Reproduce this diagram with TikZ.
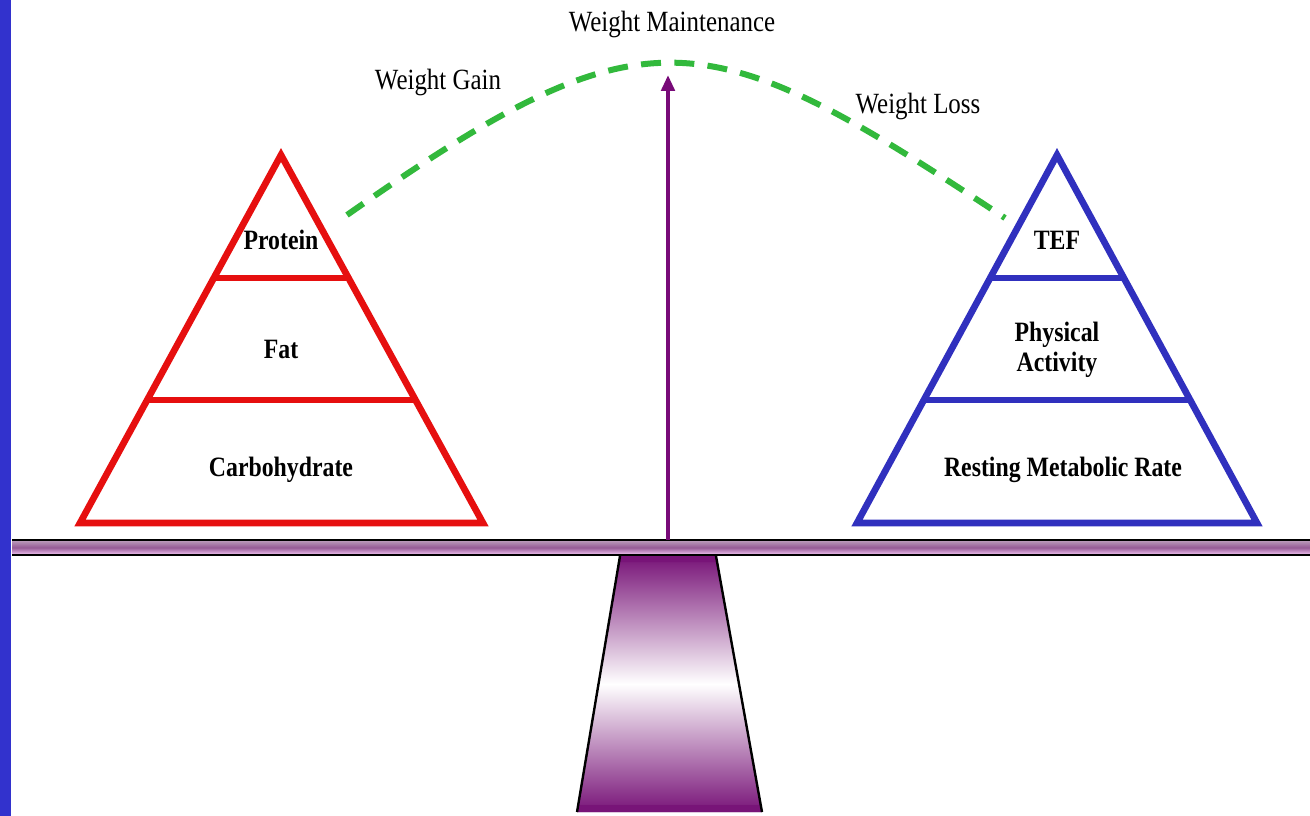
\documentclass[tikz,border=0pt]{standalone}
\usepackage{fontspec}
\setmainfont{Liberation Serif}
\newfontfamily\labfont[FakeStretch=0.85]{Liberation Serif}
\usetikzlibrary{calc,arrows.meta}
\definecolor{lbar}{RGB}{50,50,205}
\definecolor{redtri}{RGB}{230,15,15}
\definecolor{bluetri}{RGB}{48,48,190}
\definecolor{dgreen}{RGB}{50,185,60}
\definecolor{arrpurple}{RGB}{120,10,120}
\definecolor{fulpurple}{RGB}{120,20,120}
\definecolor{beamlav}{RGB}{190,160,190}
\definecolor{beampur}{RGB}{150,90,150}
\definecolor{beampink}{RGB}{245,200,245}
\tikzset{
  tri/.style={line width=5pt, line join=miter},
  layer/.style={line width=5pt},
  plainlab/.style={font=\labfont\fontsize{22}{24}\selectfont, inner sep=0pt},
  boldlab/.style={font=\labfont\bfseries\fontsize{21}{22.5}\selectfont, inner sep=0pt, align=center},
  arc/.style={dgreen, line width=4.5pt, dash pattern=on 15pt off 10pt},
}
\begin{document}
\begin{tikzpicture}[x=0.75pt,y=-0.75pt]
\useasboundingbox (0,0) rectangle (1310,816);
\fill[white] (0,0) rectangle (1310,816);
% left bar
\fill[lbar] (0,0) rectangle (11,816);

% beam
\coordinate (beamTL) at (12,540);
\coordinate (beamBR) at (1310,555);
\shade[top color=beamlav, bottom color=beampink, middle color=beampur] (beamTL) rectangle (beamBR);
\draw[line width=2pt] (12,540) -- (1310,540);
\draw[line width=2pt] (12,555) -- (1310,555);

% fulcrum
\coordinate (fTL) at (620,556);
\coordinate (fTR) at (716,556);
\coordinate (fBR) at (762,812);
\coordinate (fBL) at (577,812);
\shade[top color=fulpurple, bottom color=fulpurple, middle color=white] (fTL) -- (fTR) -- (fBR) -- (fBL) -- cycle;
\fill[fulpurple] (fBL) -- (fBR) -- ($(fBR)+(-1,-7)$) -- ($(fBL)+(1,-7)$) -- cycle;
\fill[fulpurple] (fTL) -- (fTR) -- ($(fTR)+(0.6,6)$) -- ($(fTL)+(-0.6,6)$) -- cycle;
\draw[line width=1.8pt] (fTL) -- (fBL);
\draw[line width=1.8pt] (fTR) -- (fBR);

% arrow
\coordinate (arrBase) at (668,540);
\coordinate (arrTop) at (668,75);
\draw[arrpurple, line width=3.6pt, -{Triangle[length=12pt,width=10pt]}] (arrBase) -- (arrTop);

% red pyramid
\coordinate (rA) at (281,155);
\coordinate (rL) at (80,523);
\coordinate (rR) at (483,523);
\draw[redtri, tri] (rA) -- (rL) -- (rR) -- cycle;
\draw[redtri, layer] ($(rA)!0.334!(rL)$) -- ($(rA)!0.334!(rR)$);
\draw[redtri, layer] ($(rA)!0.666!(rL)$) -- ($(rA)!0.666!(rR)$);
\node[boldlab] (protein) at (281,240) {Protein};
\node[boldlab] (fat) at (281,349) {Fat};
\node[boldlab] (carb) at (281,470) {Carbohydrate};

% blue pyramid
\coordinate (bA) at (1057,155);
\coordinate (bL) at (857,523);
\coordinate (bR) at (1257,523);
\draw[bluetri, tri] (bA) -- (bL) -- (bR) -- cycle;
\draw[bluetri, layer] ($(bA)!0.334!(bL)$) -- ($(bA)!0.334!(bR)$);
\draw[bluetri, layer] ($(bA)!0.666!(bL)$) -- ($(bA)!0.666!(bR)$);
\node[boldlab] (tef) at (1057,240) {TEF};
\node[boldlab] (pa) at (1057,350) {Physical\\Activity};
\node[boldlab] (rmr) at (1063,470) {Resting Metabolic Rate};

% green dashed arc
\coordinate (gStart) at (347,215);
\coordinate (gC1) at (648,4);
\coordinate (gC2) at (704,19);
\coordinate (gEnd) at (1005,218);
\draw[arc] (gStart) .. controls (gC1) and (gC2) .. (gEnd);

% labels
\node[plainlab] (wm) at (672,24) {Weight Maintenance};
\node[plainlab] (wg) at (438,82) {Weight Gain};
\node[plainlab] (wl) at (918,106) {Weight Loss};
\end{tikzpicture}
\end{document}
